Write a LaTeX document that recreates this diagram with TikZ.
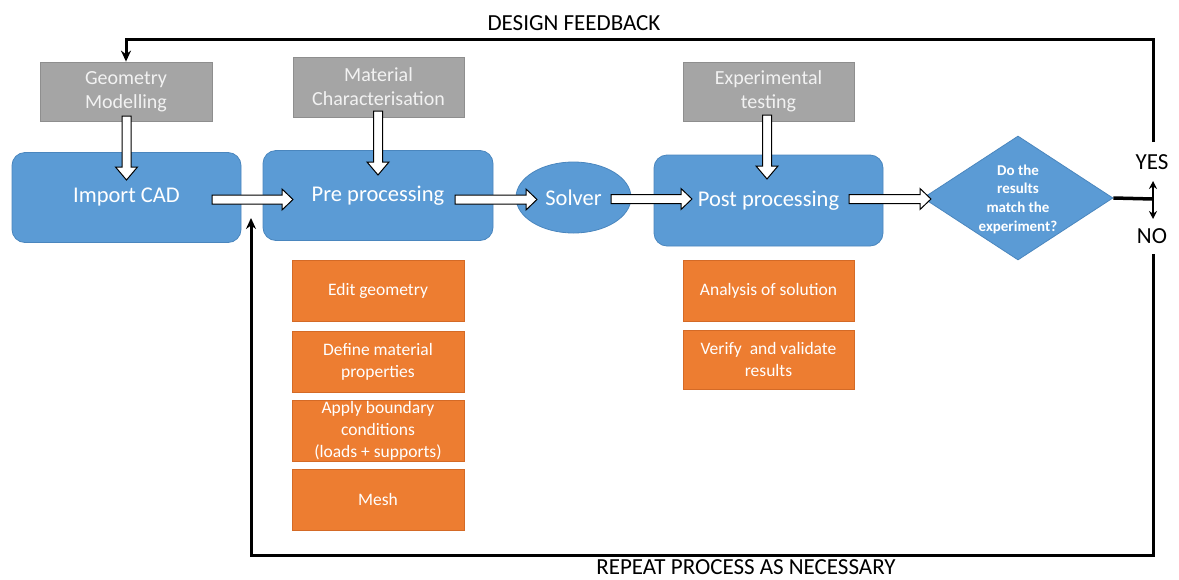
\documentclass[tikz,border=0pt]{standalone}
\usepackage{fontspec}
\setmainfont{Carlito}
\usetikzlibrary{shapes.geometric,arrows.meta,calc}
\definecolor{bluef}{HTML}{5B9BD5}
\definecolor{blued}{HTML}{4A86BE}
\definecolor{grayf}{HTML}{A5A5A5}
\definecolor{grayd}{HTML}{8E8E8E}
\definecolor{orangef}{HTML}{ED7D31}
\definecolor{oranged}{HTML}{D46A26}
\definecolor{graytext}{HTML}{F2F2F2}
\tikzset{
 box/.style={draw, line width=0.8pt, inner sep=0pt, align=center, text=white},
 graybox/.style={box, fill=grayf, draw=grayd, text=graytext, font=\fontsize{20}{24}\selectfont},
 bluebox/.style={box, fill=bluef, draw=blued, rounded corners=13pt, font=\fontsize{22.5}{27}\selectfont},
 blueoval/.style={box, ellipse, fill=bluef, draw=blued, font=\fontsize{22.5}{27}\selectfont},
 orangebox/.style={box, fill=orangef, draw=oranged, font=\fontsize{17.5}{22}\selectfont, minimum width=172pt},
 decision/.style={diamond, fill=bluef, draw=blued, line width=0.8pt, inner sep=0pt, minimum width=190pt, minimum height=124pt},
 dtext/.style={align=center, text=white, inner sep=0pt, font=\bfseries\fontsize{15}{18.7}\selectfont},
 conn/.style={line width=3pt, -{Stealth[length=11pt,width=10pt]}},
 barrow/.style={draw=black, fill=white, line width=1pt, line join=miter},
 lbl/.style={font=\fontsize{23}{27}\selectfont, inner sep=0pt}
}
\newcommand{\hblock}[2]{\path[barrow] let \p1=(#1), \p2=(#2) in
  (\x1,\y1+4.5pt) -- (\x2-11pt,\y1+4.5pt) -- (\x2-11pt,\y1+10.5pt) -- (\x2,\y1)
  -- (\x2-11pt,\y1-10.5pt) -- (\x2-11pt,\y1-4.5pt) -- (\x1,\y1-4.5pt) -- cycle;}
\newcommand{\vblock}[2]{\path[barrow] let \p1=(#1), \p2=(#2) in
  (\x1-4.5pt,\y1) -- (\x1-4.5pt,\y2+13pt) -- (\x1-11pt,\y2+13pt) -- (\x1,\y2)
  -- (\x1+11pt,\y2+13pt) -- (\x1+4.5pt,\y2+13pt) -- (\x1+4.5pt,\y1) -- cycle;}
\begin{document}
\begin{tikzpicture}[x=1pt,y=-1pt]
\useasboundingbox[fill=white] (0,0) rectangle (1179,579);

% grey input boxes
\node[graybox, minimum width=172pt, minimum height=59pt] (geo) at (126,91.5) {Geometry\\Modelling};
\node[graybox, minimum width=171pt, minimum height=60pt] (mat) at (378.5,87) {Material\\Characterisation};
\node[graybox, minimum width=171pt, minimum height=59pt] (exp) at (768.5,91.5) {Experimental\\testing};

% main process
\node[bluebox, minimum width=229pt, minimum height=90pt] (cad) at (126.5,197.5) {Import CAD};
\node[bluebox, minimum width=230pt, minimum height=90pt] (pre) at (378,195.5) {Pre processing};
\node[blueoval, minimum width=115pt, minimum height=71pt] (sol) at (573.5,197.5) {Solver};
\node[bluebox, minimum width=229pt, minimum height=91pt] (post) at (768.5,200.5) {Post processing};
\node[decision] (dia) at (1018,198) {};
\node[dtext] (diat) at (1018,199) {Do the\\results\\match the\\experiment?};

% sub-steps
\node[orangebox, minimum height=61pt] (edit) at (378,290.5) {Edit geometry};
\node[orangebox, minimum height=61pt] (defm) at (378,361.5) {Define material\\properties};
\node[orangebox, minimum height=61pt] (bc) at (378,430.5) {Apply boundary\\conditions\\(loads + supports)};
\node[orangebox, minimum height=61pt] (mesh) at (378,499.5) {Mesh};
\node[orangebox, minimum width=171pt, minimum height=61pt] (anal) at (768.5,290.5) {Analysis of solution};
\node[orangebox, minimum width=171pt, minimum height=59pt] (verif) at (768.5,359.5) {Verify~ and validate\\results};

% labels
\node[lbl] (dfb) at (574,23) {DESIGN FEEDBACK};
\node[lbl] (rep) at (746,567.5) {REPEAT PROCESS AS NECESSARY};
\node[lbl] (yes) at (1152,162) {YES};
\node[lbl] (no) at (1152,236) {NO};

% block arrows
\coordinate (a1s) at (212,199.5); \coordinate (a1e) at (293,199.5);
\coordinate (a2s) at (455,199.5); \coordinate (a2e) at (537,199.5);
\coordinate (a3s) at (611,199);   \coordinate (a3e) at (692,199);
\coordinate (a4s) at (849,199);   \coordinate (a4e) at (931,199);
\coordinate (v1s) at (126.5,116); \coordinate (v1e) at (126.5,180);
\coordinate (v2s) at (378,111);   \coordinate (v2e) at (378,175);
\coordinate (v3s) at (767,115);   \coordinate (v3e) at (767,179);
\hblock{a1s}{a1e}
\hblock{a2s}{a2e}
\hblock{a3s}{a3e}
\hblock{a4s}{a4e}
\vblock{v1s}{v1e}
\vblock{v2s}{v2e}
\vblock{v3s}{v3e}

% decision fork
\coordinate (fork) at (1153,199);
\coordinate (yesend) at (1153,181);
\coordinate (noend) at (1153,219);
\draw[line width=3.5pt] (dia.east) -- (fork);
\draw[line width=2.5pt, {Stealth[length=8pt,width=8pt]}-{Stealth[length=8pt,width=8pt]}] (yesend) -- (noend);

% design feedback loop
\coordinate (fbstart) at (1153,142);
\coordinate (fbtop) at (1153,39);
\draw[conn] (fbstart) -- (fbtop) -| (geo.north);

% repeat loop
\coordinate (nostart) at (1153,254);
\coordinate (rpbl) at (251,555);
\coordinate (rpend) at (251,218);
\draw[conn] (nostart) |- (rpbl) -- (rpend);
\end{tikzpicture}
\end{document}
